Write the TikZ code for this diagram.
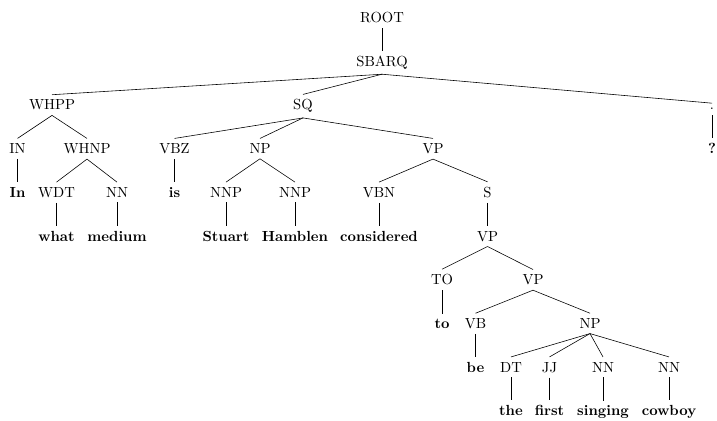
\documentclass[tikz,border=0pt]{standalone}
\usepackage{tikz}
\usetikzlibrary{positioning}
\tikzset{
tag/.style={anchor=base}, % phrase and part-of-speech labels
word/.style={anchor=base, font=\bfseries}, % the words at the leaves
}

\begin{document}
\begin{tikzpicture}[x=0.24mm, y=-0.24mm]
        \useasboundingbox (0,0) rectangle (717,420);
        \node[tag] (root) at (382,22.5) {ROOT};
        \node[tag] (sbarq) at (382,66.2) {SBARQ};
        \node[tag] (whpp) at (52,109.9) {WHPP};
        \node[tag] (sq) at (303,109.9) {SQ};
        \node[tag] (dot) at (712,109.9) {.};
        \node[tag] (in) at (17.5,153.6) {IN};
        \node[tag] (whnp) at (87,153.6) {WHNP};
        \node[tag] (vbz) at (174.5,153.6) {VBZ};
        \node[tag] (np1) at (260,153.6) {NP};
        \node[tag] (vp1) at (433,153.6) {VP};
        \node[word] (w-q) at (712,153.6) {?};
        \node[word] (w-in) at (17.5,197.3) {In};
        \node[tag] (wdt) at (56.5,197.3) {WDT};
        \node[tag] (nn1) at (117,197.3) {NN};
        \node[word] (w-is) at (174.5,197.3) {is};
        \node[tag] (nnp1) at (226,197.3) {NNP};
        \node[tag] (nnp2) at (295,197.3) {NNP};
        \node[tag] (vbn) at (379,197.3) {VBN};
        \node[tag] (s) at (487.5,197.3) {S};
        \node[word] (w-what) at (56.5,241) {what};
        \node[word] (w-medium) at (117,241) {medium};
        \node[word] (w-stuart) at (226,241) {Stuart};
        \node[word] (w-hamblen) at (295,241) {Hamblen};
        \node[word] (w-considered) at (379,241) {considered};
        \node[tag] (vp2) at (487.5,241) {VP};
        \node[tag] (to) at (442,284.7) {TO};
        \node[tag] (vp3) at (533,284.7) {VP};
        \node[word] (w-to) at (442,328.4) {to};
        \node[tag] (vb) at (475.5,328.4) {VB};
        \node[tag] (np2) at (590,328.4) {NP};
        \node[word] (w-be) at (475.5,372.1) {be};
        \node[tag] (dt) at (511,372.1) {DT};
        \node[tag] (jj) at (549.5,372.1) {JJ};
        \node[tag] (nn2) at (603,372.1) {NN};
        \node[tag] (nn3) at (669,372.1) {NN};
        \node[word] (w-the) at (511,415.8) {the};
        \node[word] (w-first) at (549.5,415.8) {first};
        \node[word] (w-singing) at (603,415.8) {singing};
        \node[word] (w-cowboy) at (669,415.8) {cowboy};

        \draw (root.south) edge (sbarq.north)
        (sbarq.south) edge (whpp.north)
        (sbarq.south) edge (sq.north)
        (sbarq.south) edge (dot.north)
        (dot.south) edge (w-q.north)
        (whpp.south) edge (in.north)
        (whpp.south) edge (whnp.north)
        (in.south) edge (w-in.north)
        (whnp.south) edge (wdt.north)
        (whnp.south) edge (nn1.north)
        (wdt.south) edge (w-what.north)
        (nn1.south) edge (w-medium.north)
        (sq.south) edge (vbz.north)
        (sq.south) edge (np1.north)
        (sq.south) edge (vp1.north)
        (vbz.south) edge (w-is.north)
        (np1.south) edge (nnp1.north)
        (np1.south) edge (nnp2.north)
        (nnp1.south) edge (w-stuart.north)
        (nnp2.south) edge (w-hamblen.north)
        (vp1.south) edge (vbn.north)
        (vp1.south) edge (s.north)
        (vbn.south) edge (w-considered.north)
        (s.south) edge (vp2.north)
        (vp2.south) edge (to.north)
        (vp2.south) edge (vp3.north)
        (to.south) edge (w-to.north)
        (vp3.south) edge (vb.north)
        (vp3.south) edge (np2.north)
        (vb.south) edge (w-be.north)
        (np2.south) edge (dt.north)
        (np2.south) edge (jj.north)
        (np2.south) edge (nn2.north)
        (np2.south) edge (nn3.north)
        (dt.south) edge (w-the.north)
        (jj.south) edge (w-first.north)
        (nn2.south) edge (w-singing.north)
        (nn3.south) edge (w-cowboy.north);
      \end{tikzpicture}
\end{document}
